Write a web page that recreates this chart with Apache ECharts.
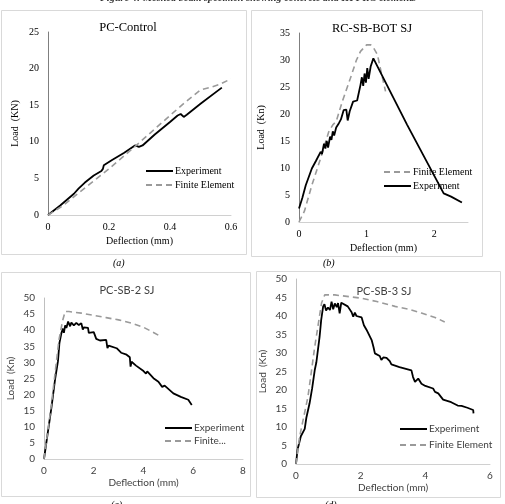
<!DOCTYPE html>
<html>
<head>
<meta charset="utf-8">
<script src="https://cdn.jsdelivr.net/npm/echarts@6/dist/echarts.min.js"></script>
<style>
  html, body { margin: 0; padding: 0; background: #fff; }
  #main { width: 505px; height: 504px; }
</style>
</head>
<body>
<div id="main"></div>
<script>
'use strict';

// panel titles
var panelTitles = ['PC-Control', 'RC-SB-BOT SJ', 'PC-SB-2 SJ', 'PC-SB-3 SJ'];
var panelTags = ['(a)', '(b)', '(c)', '(d)'];

// (a) PC-Control  [deflection mm, load kN]
var aExperiment = [[0,0],[0.04,1.3],[0.085,2.9],[0.1,3.6],[0.12,4.4],[0.15,5.4],[0.175,6.0],[0.18,6.3],[0.183,6.8],[0.21,7.5],[0.25,8.5],[0.285,9.5],[0.29,9.7],[0.298,9.3],[0.31,9.5],[0.35,11.0],[0.4,12.7],[0.425,13.6],[0.435,13.8],[0.445,13.4],[0.455,13.7],[0.5,15.2],[0.57,17.4]];
var aFinite = [[0,0],[0.05,1.3],[0.1,3.0],[0.2,6.3],[0.3,9.9],[0.4,13.6],[0.45,15.4],[0.5,17.1],[0.53,17.4],[0.56,17.8],[0.6,18.6]];

// (b) RC-SB-BOT SJ
var bExperiment = [[0,2.5],[0.05,4.5],[0.1,6.8],[0.19,9.9],[0.25,11.3],[0.32,13.0],[0.34,12.6],[0.37,14.5],[0.39,13.6],[0.41,15.0],[0.43,13.8],[0.46,15.8],[0.48,15.2],[0.5,16.8],[0.52,16.0],[0.55,17.5],[0.59,18.3],[0.62,19.0],[0.66,20.7],[0.7,20.8],[0.72,18.8],[0.75,20.5],[0.8,22.3],[0.86,22.5],[0.91,25.4],[0.93,26.8],[0.95,25.2],[0.97,27.5],[0.99,25.8],[1.01,28.5],[1.03,26.5],[1.06,28.8],[1.1,30.3],[1.6,18.0],[2.14,5.3],[2.25,4.7],[2.41,3.6]];
var bFinite = [[0,0],[0.08,2.0],[0.19,6.8],[0.32,11.8],[0.44,16.7],[0.5,18.0],[0.55,18.6],[0.64,22.3],[0.76,26.6],[0.85,30.0],[0.91,31.6],[1.0,32.8],[1.06,32.8],[1.1,32.3],[1.16,31.0],[1.22,27.5],[1.28,24.2]];

// (c) PC-SB-2 SJ
var cExperiment = [[0,0],[0.15,8],[0.3,16],[0.45,25],[0.56,30.3],[0.62,36],[0.7,39.1],[0.76,40.5],[0.8,39.2],[0.85,41.5],[0.9,40.7],[0.97,42.7],[1.05,41.2],[1.1,42.4],[1.2,41.5],[1.3,42.3],[1.4,41.6],[1.5,42.2],[1.56,40.2],[1.6,40.9],[1.77,40.7],[1.8,39.2],[2.0,39.4],[2.1,37.3],[2.25,36.8],[2.5,37.0],[2.55,34.4],[2.6,35.2],[2.92,34.4],[3.1,33.0],[3.32,32.4],[3.45,31.6],[3.48,28.7],[3.52,30.2],[3.7,29.0],[4.0,27.3],[4.1,26.5],[4.15,27.2],[4.4,25.1],[4.6,24.0],[4.75,22.4],[4.85,22.8],[5.2,20.4],[5.5,19.3],[5.8,18.4],[5.88,18.6],[5.94,16.8]];
var cFinite = [[0,0],[0.3,17],[0.6,37],[0.75,43],[0.85,45.8],[1.0,45.8],[1.5,45.3],[2.0,44.6],[2.5,43.9],[3.0,43.2],[3.5,42.2],[4.0,40.9],[4.4,39.3],[4.7,38.0]];

// (d) PC-SB-3 SJ
var dExperiment = [[0,0],[0.05,4],[0.15,7.5],[0.27,9.5],[0.32,12.5],[0.36,12],[0.42,16.4],[0.5,20.5],[0.52,20],[0.58,25.4],[0.63,27.5],[0.66,27],[0.73,34.4],[0.78,39],[0.84,42.6],[0.88,43.2],[0.93,41.5],[0.99,42.3],[1.05,41.6],[1.1,43.9],[1.15,41.8],[1.2,43.4],[1.26,42.4],[1.3,43.5],[1.35,40.7],[1.4,43.6],[1.46,43.5],[1.6,42.6],[1.72,41.0],[1.77,39.8],[1.82,40.9],[1.87,40.0],[2.03,39.6],[2.1,37.5],[2.18,36.3],[2.34,33.5],[2.4,31.5],[2.44,29.9],[2.59,29.2],[2.64,28.1],[2.7,28.8],[2.8,28.7],[2.9,27.8],[2.95,26.9],[3.2,26.2],[3.57,25.3],[3.62,23.5],[3.68,22.2],[3.78,23.1],[3.88,21.7],[4.0,21.1],[4.24,20.4],[4.3,19.5],[4.4,19.1],[4.55,17.4],[4.8,16.7],[5.0,15.8],[5.12,15.7],[5.3,15.2],[5.48,14.6],[5.49,13.7]];
var dFinite = [[0,0],[0.11,7.3],[0.37,18.2],[0.58,31.7],[0.79,43.5],[0.89,45.7],[1.2,45.7],[2.03,44.8],[2.5,43.9],[3.06,42.6],[3.5,41.8],[3.88,40.8],[4.3,39.6],[4.6,38.4]];

// axis ranges: [xmax, xstep, ymax, ystep]
var axisRanges = [[0.6,0.2,25,5],[2.5,1,35,5],[8,2,50,5],[6,2,50,5]];
var yNames = ['Load  (KN)', 'Load  (Kn)', 'Load  (Kn)', 'Load  (Kn)'];

var SERIF = '"Liberation Serif", "Times New Roman", serif';
var SANS = 'Lato, "Open Sans", sans-serif';

var grids = [
	{left: 48, top: 32, width: 183, height: 183},
	{left: 299, top: 33, width: 169, height: 189},
	{left: 44, top: 298, width: 199, height: 161},
	{left: 296, top: 279, width: 194, height: 185}
];
var fonts = [SERIF, SERIF, SANS, SANS];
var labelColors = ['#000', '#000', '#404040', '#404040'];

function makeXAxis(i){
	var r = axisRanges[i];
	return {
		type: 'value', gridIndex: i, min: 0, max: r[0], interval: r[1],
		name: 'Deflection (mm)', nameLocation: 'middle', nameGap: i < 2 ? 21 : 19,
		nameTextStyle: {fontFamily: fonts[i], fontSize: 10, color: labelColors[i]},
		axisLine: {show: true, onZero: false, lineStyle: {color: '#d0d0d0', width: 1}},
		axisTick: {show: false},
		splitLine: {show: false},
		axisLabel: {
			fontFamily: fonts[i], fontSize: 10, color: labelColors[i], margin: 7,
			showMaxLabel: i !== 1,
			formatter: function(v){ return i === 1 && v > 2 ? '' : String(+v.toFixed(2)); }
		}
	};
}

function makeYAxis(i){
	var r = axisRanges[i];
	return {
		type: 'value', gridIndex: i, min: 0, max: r[2], interval: r[3],
		name: yNames[i], nameLocation: 'middle', nameRotate: 90,
		nameGap: i === 1 ? 33 : 28,
		nameTextStyle: {fontFamily: fonts[i], fontSize: 10, color: labelColors[i]},
		axisLine: {show: true, lineStyle: {color: i < 2 ? '#7f7f7f' : '#bfbfbf', width: 1}},
		axisTick: {show: false},
		splitLine: {show: false},
		axisLabel: {fontFamily: fonts[i], fontSize: 10, color: labelColors[i], margin: 9}
	};
}

function expSeries(i, data){
	return {
		name: 'Experiment', type: 'line', xAxisIndex: i, yAxisIndex: i,
		data: data, symbol: 'none', showSymbol: false, silent: true,
		lineStyle: {color: '#000', width: 1.8},
		itemStyle: {color: '#000'}
	};
}
function feSeries(i, data){
	return {
		name: 'Finite Element', type: 'line', xAxisIndex: i, yAxisIndex: i,
		data: data, symbol: 'none', showSymbol: false, silent: true,
		lineStyle: {color: '#9a9a9a', width: 1.6, type: [6, 4]},
		itemStyle: {color: '#9a9a9a'}
	};
}

// title positions (center x, top y)
var titlePos = [[123, 16], [367, 17], [122, 280], [379, 281]];
var titles = [];
for (var i = 0; i < 4; i++) {
	titles.push({
		text: panelTitles[i], left: titlePos[i][0], top: titlePos[i][1], textAlign: 'center',
		textStyle: {fontFamily: fonts[i], fontSize: i < 2 ? 12.5 : 11, fontWeight: 'normal', color: i < 2 ? '#000' : '#404040'}
	});
}

// legends
var legendPos = [[140, 161], [378, 162], [159, 418], [394, 419]];
var legendGaps = [4, 4, 3, 6];
var legendOrder = [
	['Experiment', 'Finite Element'],
	['Finite Element', 'Experiment'],
	['Experiment', 'Finite Element'],
	['Experiment', 'Finite Element']
];
var legends = [];
for (var j = 0; j < 4; j++) {
	legends.push({
		orient: 'vertical', left: legendPos[j][0], top: legendPos[j][1],
		data: legendOrder[j], itemWidth: 27, itemHeight: 10, itemGap: legendGaps[j],
		selectedMode: false,
		itemStyle: {opacity: 0},
		textStyle: {fontFamily: fonts[j], fontSize: 10, color: j < 2 ? '#000' : '#404040', padding: [0, 0, 0, -3]},
		formatter: j === 2 ? function(name){ return name === 'Finite Element' ? 'Finite...' : name; } : '{name}'
	});
}

var option = {
	backgroundColor: '#fff',
	animation: false,
	title: titles,
	legend: legends,
	grid: grids,
	xAxis: [makeXAxis(0), makeXAxis(1), makeXAxis(2), makeXAxis(3)],
	yAxis: [makeYAxis(0), makeYAxis(1), makeYAxis(2), makeYAxis(3)],
	series: [
		expSeries(0, aExperiment), feSeries(0, aFinite),
		feSeries(1, bFinite), expSeries(1, bExperiment),
		expSeries(2, cExperiment), feSeries(2, cFinite),
		expSeries(3, dExperiment), feSeries(3, dFinite)
	],
	graphic: [
		// panel frames
		{type: 'rect', shape: {x: 1.5, y: 10.5, width: 245, height: 244}, style: {fill: 'none', stroke: '#d9d9d9', lineWidth: 1}, silent: true},
		{type: 'rect', shape: {x: 251.5, y: 10.5, width: 231, height: 246}, style: {fill: 'none', stroke: '#d9d9d9', lineWidth: 1}, silent: true},
		{type: 'rect', shape: {x: 1.5, y: 272.5, width: 249, height: 224}, style: {fill: 'none', stroke: '#d9d9d9', lineWidth: 1}, silent: true},
		{type: 'rect', shape: {x: 256.5, y: 271.5, width: 244, height: 226}, style: {fill: 'none', stroke: '#d9d9d9', lineWidth: 1}, silent: true},
		// caption (cut at top edge)
		{type: 'text', left: 100, top: -7, silent: true,
			style: {text: 'Figure 4: Meshed beam specimen showing concrete and HPFRC elements', fontFamily: SERIF, fontStyle: 'italic', fontWeight: 'bold', fontSize: 10.3, fill: '#333'}},
		// sub-figure tags
		{type: 'text', left: 113, top: 258, silent: true, style: {text: panelTags[0], fontFamily: SERIF, fontStyle: 'italic', fontSize: 10, fill: '#000'}},
		{type: 'text', left: 323, top: 258, silent: true, style: {text: panelTags[1], fontFamily: SERIF, fontStyle: 'italic', fontSize: 10, fill: '#000'}},
		{type: 'text', left: 111, top: 500, silent: true, style: {text: panelTags[2], fontFamily: SERIF, fontStyle: 'italic', fontSize: 10, fill: '#000'}},
		{type: 'text', left: 325, top: 500, silent: true, style: {text: panelTags[3], fontFamily: SERIF, fontStyle: 'italic', fontSize: 10, fill: '#000'}}
	]
};

var chart = echarts.init(document.getElementById('main'), null, {renderer: 'canvas'});
chart.setOption(option);
</script>
</body>
</html>
